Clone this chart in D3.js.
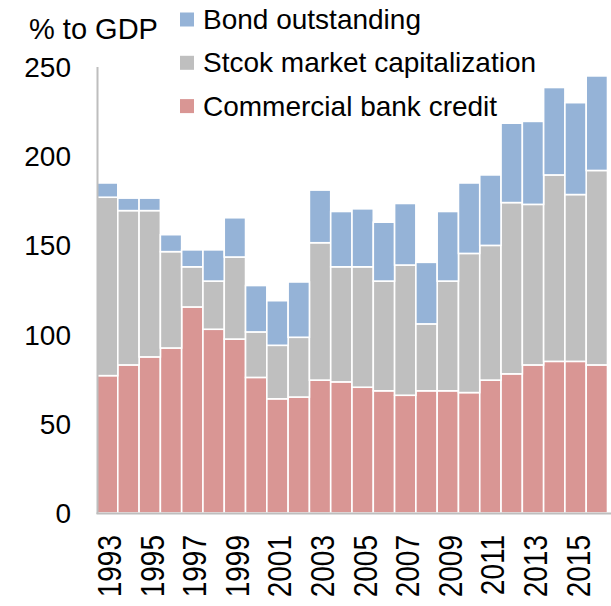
<!DOCTYPE html>
<html>
<head>
<meta charset="utf-8">
<script src="https://cdn.jsdelivr.net/npm/d3@7"></script>
<style>
  body { margin: 0; background: #fff; }
  text { font-family: "Liberation Sans", Arial, sans-serif; fill: #000; }
</style>
</head>
<body>
<svg id="chart"></svg>
<script>
const years = [1993, 1994, 1995, 1996, 1997, 1998, 1999, 2000, 2001, 2002, 2003, 2004,
  2005, 2006, 2007, 2008, 2009, 2010, 2011, 2012, 2013, 2014, 2015, 2016];
const bankCredit = [77, 83, 87.5, 92.5, 115.5, 103, 97.5, 76, 64, 65, 74.5, 73.5,
  70.5, 68.5, 66, 68.5, 68.5, 67.5, 74.5, 78, 83, 85, 85, 83];
const stockCap = [100, 86.5, 82, 54, 22.5, 27, 46, 25.5, 30, 33.5, 77, 64.5,
  67.5, 61.5, 73, 37.5, 61.5, 78, 75.5, 96, 90, 104.5, 93.5, 109];
const bonds = [8, 7, 7, 9.5, 9.5, 17.5, 22, 26, 25, 31, 29.5, 31,
  32.5, 33, 34.5, 34.5, 39, 39.5, 39.5, 44.5, 46.5, 49, 51.5, 53];
const yTicks = [0, 50, 100, 150, 200, 250];
const yearLabels = [1993, 1995, 1997, 1999, 2001, 2003, 2005, 2007, 2009, 2011, 2013, 2015];

const series = [
  { key: 'bank', name: 'Commercial bank credit', color: '#D99694', values: bankCredit },
  { key: 'stock', name: 'Stcok market capitalization', color: '#BFBFBF', values: stockCap },
  { key: 'bond', name: 'Bond outstanding', color: '#95B3D7', values: bonds },
];

const width = 611;
const height = 606;
const svg = d3.select('#chart')
  .attr('width', width)
  .attr('height', height);

const rows = years.map((year, i) => {
  const row = { year };
  series.forEach((s) => { row[s.key] = s.values[i]; });
  return row;
});

const stack = d3.stack().keys(series.map(s => s.key));
const stacked = stack(rows);

const x = d3.scaleBand()
  .domain(years)
  .range([96.5, 607.5])
  .padding(0);

const y = d3.scaleLinear()
  .domain([0, 250])
  .range([513, 67]);

// bars
svg.append('g')
  .selectAll('g')
  .data(stacked)
  .enter()
  .append('g')
  .attr('fill', (d, i) => series[i].color)
  .selectAll('rect')
  .data(d => d)
  .enter()
  .append('rect')
  .attr('x', d => x(d.data.year))
  .attr('y', d => y(d[1]))
  .attr('width', x.bandwidth())
  .attr('height', d => y(d[0]) - y(d[1]))
  .attr('stroke', '#fff')
  .attr('stroke-width', 1.6);

// axes lines
svg.append('line')
  .attr('x1', 97.5).attr('x2', 97.5)
  .attr('y1', y(250)).attr('y2', y(0) + 1)
  .attr('stroke', '#BEBEBE')
  .attr('stroke-width', 2);

svg.append('line')
  .attr('x1', 96.5).attr('x2', width)
  .attr('y1', y(0) + 0.5).attr('y2', y(0) + 0.5)
  .attr('stroke', '#BEBEBE')
  .attr('stroke-width', 2);

// y tick labels
svg.append('g')
  .selectAll('text')
  .data(yTicks)
  .enter()
  .append('text')
  .attr('x', 71)
  .attr('y', d => y(d) + 10)
  .attr('text-anchor', 'end')
  .style('font-size', '28px')
  .text(d => d);

// x tick labels (a bit wider than tall in the original)
svg.append('g')
  .selectAll('text')
  .data(yearLabels)
  .enter()
  .append('text')
  .attr('transform', d => `translate(${x(d) + x.bandwidth() / 2 + 14}, 535) rotate(-90) scale(1, 1.2)`)
  .attr('text-anchor', 'end')
  .style('font-size', '28px')
  .text(d => d);

// axis title
svg.append('text')
  .attr('x', 29)
  .attr('y', 39)
  .style('font-size', '29px')
  .text('% to GDP');

// legend
const legendItems = series.slice().reverse();
const legend = svg.append('g')
  .selectAll('g')
  .data(legendItems)
  .enter()
  .append('g')
  .attr('transform', (d, i) => `translate(180, ${19.5 + i * 43.3})`);

legend.append('rect')
  .attr('x', 0)
  .attr('y', -7)
  .attr('width', 14)
  .attr('height', 14)
  .attr('fill', d => d.color);

legend.append('text')
  .attr('x', 23)
  .attr('y', 9.5)
  .style('font-size', '28px')
  .text(d => d.name);
</script>
</body>
</html>
